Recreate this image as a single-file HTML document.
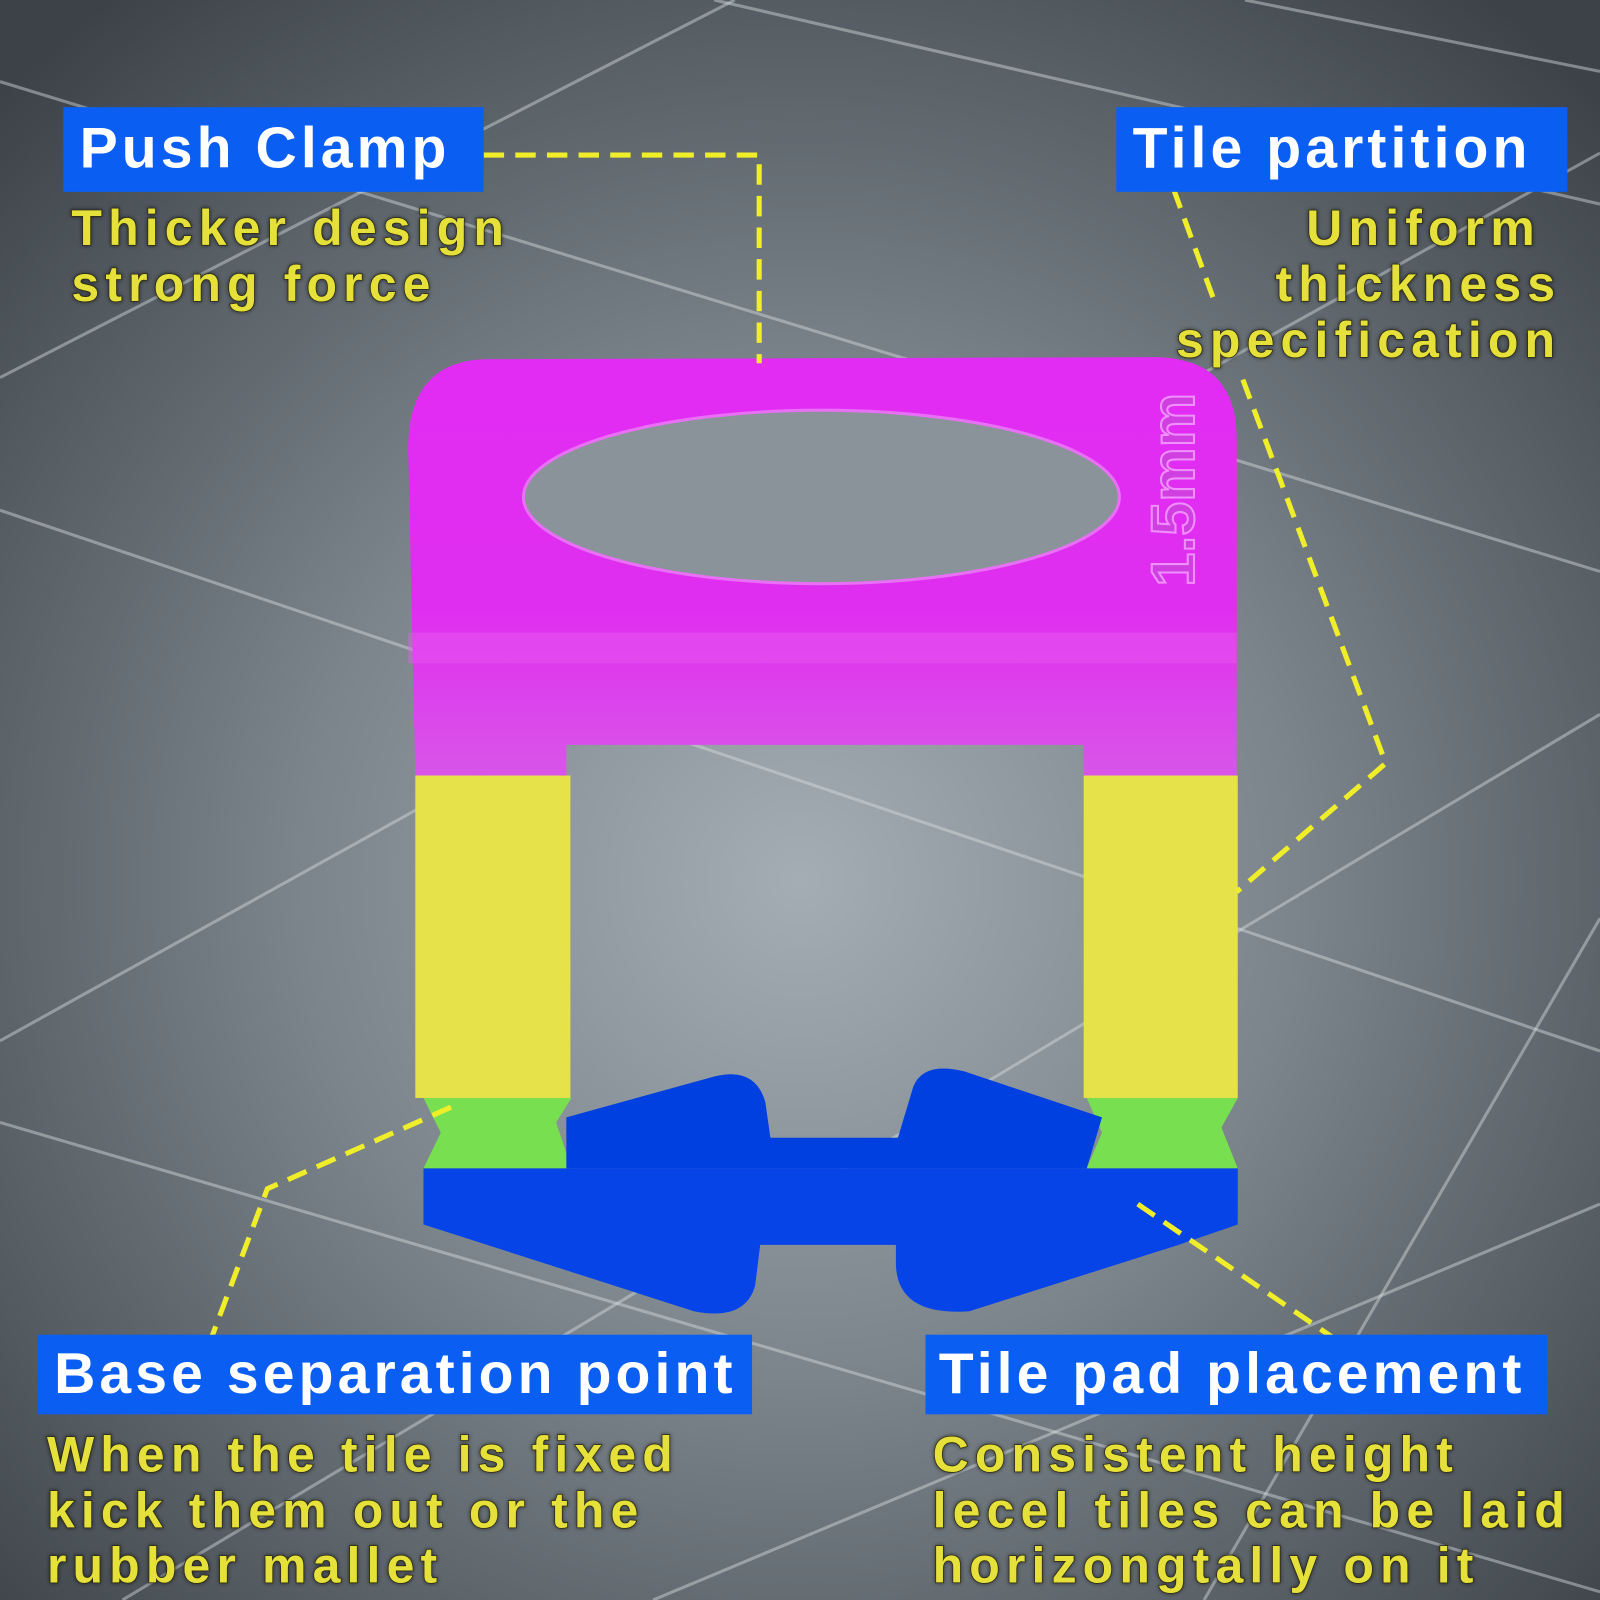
<!DOCTYPE html>
<html><head><meta charset="utf-8"><style>
html,body{margin:0;padding:0;width:1600px;height:1600px;overflow:hidden;background:#50575d}
svg{display:block}
.lbl{font-family:"Liberation Sans",sans-serif;font-weight:bold;fill:#fff;font-size:56px;letter-spacing:4px}
.desc{font-family:"Liberation Sans",sans-serif;font-weight:bold;fill:#e6e03a;font-size:49px;letter-spacing:6px;stroke:#2a2a10;stroke-width:1.5px;paint-order:stroke}
</style></head><body>
<svg width="1600" height="1600" viewBox="0 0 1568 1568" xmlns="http://www.w3.org/2000/svg">
<defs>
<radialGradient id="bg" cx="0.5" cy="0.55" r="0.7">
<stop offset="0" stop-color="#a4adb4"/><stop offset="0.45" stop-color="#7b848b"/><stop offset="1" stop-color="#3c4248"/>
</radialGradient>
<linearGradient id="mag" x1="0" y1="0" x2="0" y2="1">
<stop offset="0" stop-color="#e22cf4"/><stop offset="0.6" stop-color="#e02ef0"/><stop offset="1" stop-color="#d855e8"/>
</linearGradient>
<filter id="sh"><feDropShadow dx="0" dy="0" stdDeviation="2" flood-color="#000" flood-opacity="0.6"/></filter>
</defs>
<rect width="1568" height="1568" fill="url(#bg)"/>
<g stroke="#d8dde0" stroke-opacity="0.45" stroke-width="3" fill="none">
<line x1="0" y1="80" x2="1568" y2="560"/>
<line x1="0" y1="500" x2="1568" y2="1030"/>
<line x1="0" y1="1100" x2="1568" y2="1560"/>
<line x1="0" y1="370" x2="720" y2="0"/>
<line x1="0" y1="1020" x2="1568" y2="150"/>
<line x1="120" y1="1568" x2="1568" y2="700"/>
<line x1="640" y1="1568" x2="1568" y2="1180"/>
<line x1="1180" y1="1568" x2="1568" y2="900"/>
<line x1="700" y1="0" x2="1568" y2="200"/>
<line x1="1220" y1="0" x2="1568" y2="70"/>
</g>
<path d="M400,440 Q400,352 480,352 L1130,350 Q1212,350 1212,430 L1212,760 L1062,760 L1062,730 L555,730 L555,760 L407,760 Z" fill="url(#mag)"/>
<path d="M400,620 L1212,620 L1212,650 L400,650Z" fill="#e860f0" opacity="0.4"/>
<ellipse cx="805" cy="487" rx="292" ry="85" fill="#8a939a" stroke="#e870f4" stroke-width="3"/>
<text x="1170" y="480" transform="rotate(-90 1170 480)" text-anchor="middle" font-family="Liberation Sans" font-weight="bold" font-size="60" fill="#d040e0" stroke="#f090ff" stroke-width="2">1.5mm</text>
<rect x="407" y="760" width="152" height="316" fill="#e6e24a"/>
<rect x="1062" y="760" width="151" height="316" fill="#e6e24a"/>
<path d="M415,1076 L560,1076 L545,1100 L560,1145 L415,1145 L432,1110 Z" fill="#78e050"/>
<path d="M1065,1076 L1213,1076 L1197,1105 L1213,1145 L1065,1145 L1080,1110 Z" fill="#78e050"/>
<path d="M555,1095 L700,1055 Q740,1045 750,1080 L755,1115 L880,1115 L895,1065 Q905,1040 945,1050 L1080,1095 L1065,1145 L555,1145 Z" fill="#0040e0"/>
<path d="M415,1145 L1213,1145 L1213,1200 L1155,1220 L950,1285 Q880,1290 878,1240 L878,1220 L745,1220 L740,1260 Q730,1295 680,1285 L415,1200 Z" fill="#0644e8"/>
<g stroke="#f0ee28" stroke-width="5" stroke-dasharray="20,11" fill="none">
<polyline points="474,152 744,152 744,356"/>
<polyline points="1150,185 1190,295"/>
<polyline points="1218,372 1358,748 1212,874"/>
<polyline points="442,1085 262,1165 202,1325"/>
<polyline points="1115,1180 1305,1310"/>
</g>
<rect x="62" y="105" width="412" height="83" fill="#0a5ef2"/>
<text class="lbl" x="78" y="164">Push Clamp</text>
<rect x="1094" y="105" width="442" height="83" fill="#0a5ef2"/>
<text class="lbl" x="1110" y="164">Tile partition</text>
<rect x="37" y="1308" width="700" height="78" fill="#0a5ef2"/>
<text class="lbl" x="53" y="1365">Base separation point</text>
<rect x="907" y="1308" width="609" height="78" fill="#0a5ef2"/>
<text class="lbl" x="920" y="1365">Tile pad placement</text>
<g filter="url(#sh)">
<text class="desc" x="70" y="240">Thicker design</text>
<text class="desc" x="70" y="295">strong force</text>
<text class="desc" x="1510" y="240" text-anchor="end">Uniform</text>
<text class="desc" x="1530" y="295" text-anchor="end">thickness</text>
<text class="desc" x="1530" y="350" text-anchor="end">specification</text>
<text class="desc" x="46" y="1442">When the tile is fixed</text>
<text class="desc" x="46" y="1497">kick them out or the</text>
<text class="desc" x="46" y="1551">rubber mallet</text>
<text class="desc" x="914" y="1442">Consistent height</text>
<text class="desc" x="914" y="1497">lecel tiles can be laid</text>
<text class="desc" x="914" y="1551">horizongtally on it</text>
</g>
</svg>
</body></html>
